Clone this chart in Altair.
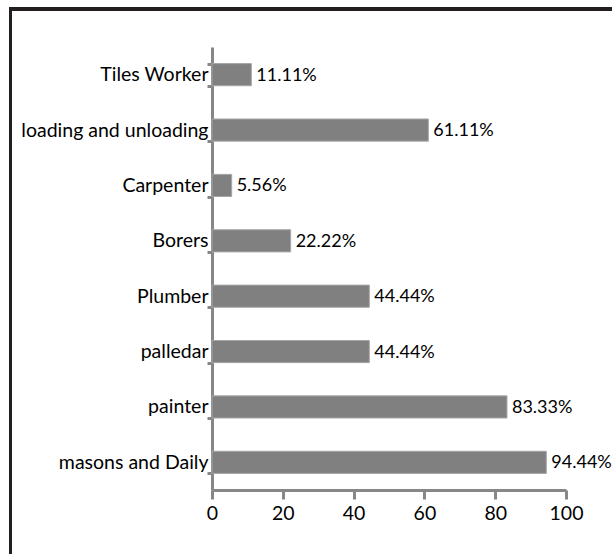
import altair as alt
import pandas as pd

# Share of workers by trade (%)
trades = [
    "Tiles Worker",
    "loading and unloading",
    "Carpenter",
    "Borers",
    "Plumber",
    "palledar",
    "painter",
    "masons and Daily",
]
shares = [11.11, 61.11, 5.56, 22.22, 44.44, 44.44, 83.33, 94.44]
x_ticks = [0, 20, 40, 60, 80, 100]

df = pd.DataFrame({"trade": trades, "share": shares})
df["label"] = [f"{v:.2f}%" for v in shares]

FONT = "Lato"
AXIS_GRAY = "#878787"
BAR_GRAY = "#808080"
TEXT = "#000000"

y_enc = alt.Y(
    "trade:N",
    sort=trades,
    title=None,
    scale=alt.Scale(paddingInner=0.6, paddingOuter=0.3),
    axis=alt.Axis(
        tickBand="extent",
        tickSize=5,
        tickWidth=3,
        tickColor=AXIS_GRAY,
        domainColor=AXIS_GRAY,
        domainWidth=3,
        labelPadding=-1,
        labelFont=FONT,
        labelFontSize=19.5,
        labelColor=TEXT,
        labelLimit=300,
    ),
)

x_enc = alt.X(
    "share:Q",
    title=None,
    scale=alt.Scale(domain=[0, 100], nice=False),
    axis=alt.Axis(
        values=x_ticks,
        grid=False,
        tickSize=9,
        tickWidth=3,
        tickColor=AXIS_GRAY,
        domainColor=AXIS_GRAY,
        domainWidth=3,
        labelPadding=5,
        labelFont=FONT,
        labelFontSize=19.5,
        labelColor=TEXT,
        labelFlush=False,
    ),
)

bars = alt.Chart(df).mark_bar(
    color=BAR_GRAY, stroke="#a6a6a6", strokeWidth=1
).encode(x=x_enc, y=y_enc)

labels = alt.Chart(df).mark_text(
    align="left", baseline="middle", dx=5, dy=1,
    font=FONT, fontSize=18, color=TEXT,
).encode(x="share:Q", y=alt.Y("trade:N", sort=trades), text="label:N")

# Outer frame (top and left edges)
frame_top = alt.Chart(df).mark_rule(color="#231f20", strokeWidth=3).encode(
    x=alt.value(-203), x2=alt.value(420), y=alt.value(-38)
)
frame_left = alt.Chart(df).mark_rule(color="#231f20", strokeWidth=3).encode(
    x=alt.value(-201.5), y=alt.value(-39), y2=alt.value(520)
)

chart = (
    alt.layer(bars, labels, frame_top, frame_left)
    .properties(
        width=354,
        height=443,
        padding={"left": 212, "top": 47, "right": 46, "bottom": 64},
        autosize=alt.AutoSizeParams(type="none"),
        background="white",
    )
    .configure_view(stroke=None)
)

chart.save("out.html", embed_options={"renderer": "svg", "actions": False})
